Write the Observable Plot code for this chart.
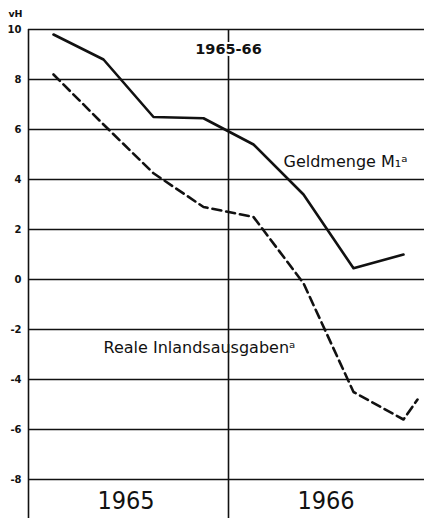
<!DOCTYPE html>
<html>
<head>
<meta charset="utf-8">
<script src="https://cdn.jsdelivr.net/npm/d3@7"></script>
<script src="https://cdn.jsdelivr.net/npm/@observablehq/plot@0.6"></script>
<style>
  html, body { margin: 0; padding: 0; background: #fff; }
  svg { display: block; }
</style>
</head>
<body>
<div id="chart"></div>
<script>
// Quarter positions (0 = start of 1965, 4 = start of 1966)
const geldX = [0.5, 1.5, 2.5, 3.5, 4.5, 5.5, 6.5, 7.5];
const geldmenge = [9.8, 8.8, 6.5, 6.45, 5.4, 3.4, 0.45, 1.0];
const realX = [0.5, 1.5, 2.5, 3.5, 4.5, 5.5, 6.5, 7.5, 7.78];
const realeAusgaben = [8.2, 6.2, 4.25, 2.9, 2.5, -0.15, -4.5, -5.6, -4.8];

const yTicks = [10, 8, 6, 4, 2, 0, -2, -4, -6, -8];
const yearBounds = [0, 4];
const yearCenters = [1.95, 5.95];
const yearLabels = ["1965", "1966"];
const unitLabel = "vH";
const periodLabel = "1965-66";
const geldLabel = "Geldmenge M\u2081\u1D43";
const realLabel = "Reale Inlandsausgaben\u1D43";

const geld = geldX.map((x, i) => ({x, y: geldmenge[i]}));
const real = realX.map((x, i) => ({x, y: realeAusgaben[i]}));

const font = "'DejaVu Sans', sans-serif";

const chart = Plot.plot({
  width: 424,
  height: 518,
  marginLeft: 28,
  marginRight: 0,
  marginTop: 29,
  marginBottom: 0,
  style: {fontFamily: font, background: "#fff", color: "#111", overflow: "visible"},
  x: {domain: [0, 7.92], axis: null},
  y: {domain: [-9.56, 10], axis: null},
  marks: [
    Plot.ruleY(yTicks, {stroke: "#111", strokeWidth: 1.3}),
    Plot.ruleX(yearBounds, {stroke: "#111", strokeWidth: 1.6}),
    Plot.axisY(yTicks, {
      tickSize: 0, tickPadding: 7, fontSize: 10, fontWeight: "bold",
      tickFormat: d => d < 0 ? "-" + Math.abs(d) : String(d),
      label: null
    }),
    Plot.text([unitLabel], {
      x: 0, y: 10, text: d => d, dx: -13, dy: -16, fontSize: 9.5, fontWeight: "bold", textAnchor: "middle"
    }),
    Plot.line(geld, {x: "x", y: "y", stroke: "#111", strokeWidth: 2.6, strokeLinejoin: "round"}),
    Plot.line(real, {x: "x", y: "y", stroke: "#111", strokeWidth: 2.6, strokeDasharray: "9,5"}),
    Plot.text([periodLabel], {
      x: 4, y: 9.2, text: d => d, fontSize: 14.5, fontWeight: "bold",
      stroke: "#fff", strokeWidth: 4, fill: "#111", paintOrder: "stroke"
    }),
    Plot.text([geldLabel], {
      x: 5.1, y: 4.7, text: d => d, textAnchor: "start", fontSize: 16, fill: "#111"
    }),
    Plot.text([realLabel], {
      x: 1.5, y: -2.72, text: d => d, textAnchor: "start", fontSize: 16, fill: "#111"
    }),
    Plot.text(yearLabels, {
      x: (d, i) => yearCenters[i], y: -8.84, text: d => d,
      fontSize: 25, fill: "#111", fontFamily: "'DejaVu Sans Condensed', 'DejaVu Sans', sans-serif"
    })
  ]
});
document.getElementById("chart").appendChild(chart);
</script>
</body>
</html>
